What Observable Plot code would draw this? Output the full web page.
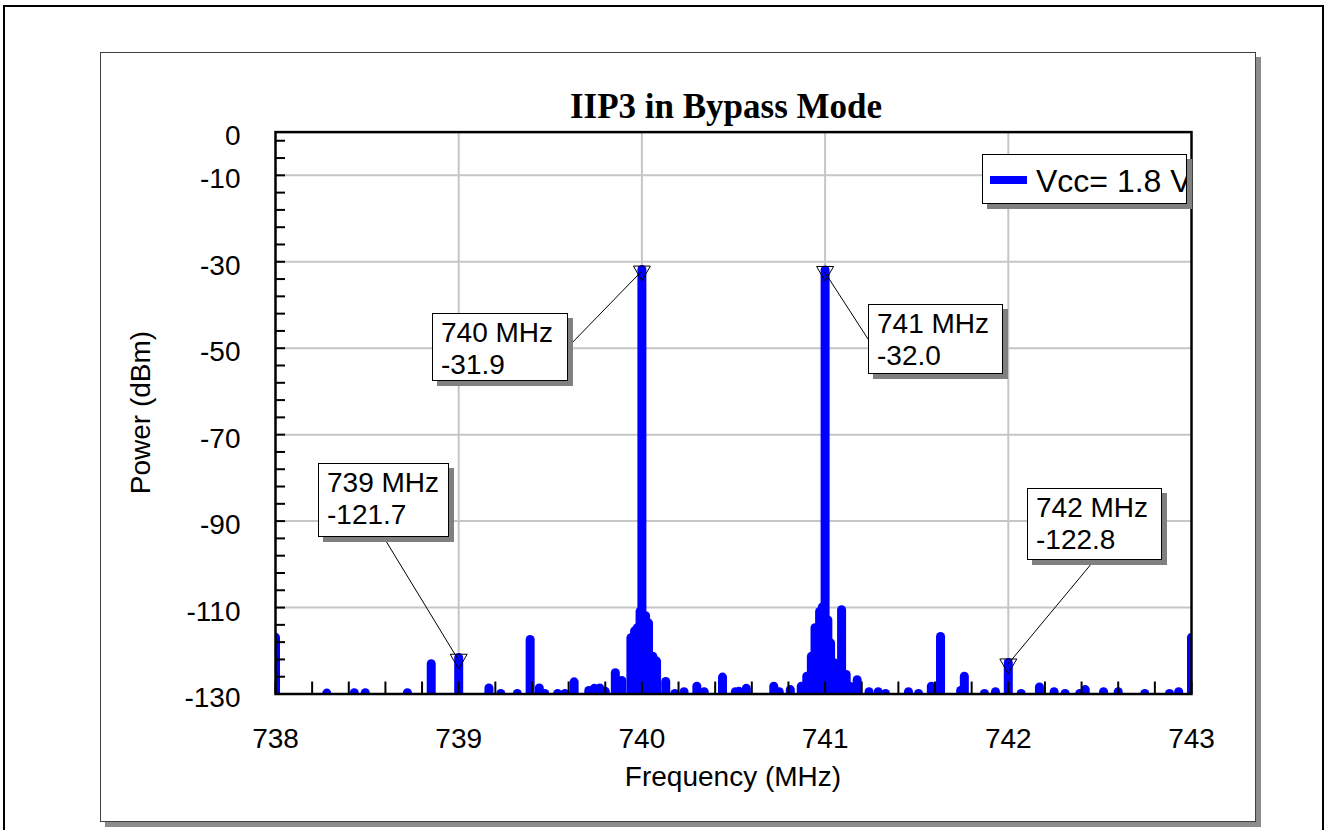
<!DOCTYPE html>
<html>
<head>
<meta charset="utf-8">
<script src="https://cdn.jsdelivr.net/npm/d3@7"></script>
<script src="https://cdn.jsdelivr.net/npm/@observablehq/plot@0.6"></script>
<style>
html,body{margin:0;padding:0;background:#fff;}
#root{position:relative;width:1328px;height:830px;overflow:hidden;font-family:"Liberation Sans",Arial,sans-serif;background:#fff;}
.outer{position:absolute;left:3px;top:5px;width:1317px;height:900px;border:2px solid #000;z-index:0;}
.panel{position:absolute;left:100px;top:52px;width:1154px;height:768px;border:1px solid #404040;background:#fff;box-shadow:5px 5px 0 #8c8c8c;z-index:1;}
#chart{position:absolute;left:0;top:0;width:1328px;height:830px;z-index:2;}
.box{position:absolute;background:#fff;border:1px solid #000;box-shadow:5px 5px 0 #808080;box-sizing:border-box;overflow:hidden;z-index:3;}
.line{position:absolute;white-space:nowrap;color:#000;}
#err{position:absolute;left:120px;top:60px;z-index:10;color:red;font-size:14px;white-space:pre-wrap;width:1000px;}
</style>
</head>
<body>
<div id="root">
  <div class="outer"></div>
  <div class="panel"></div>
  <div id="chart"></div>
  <div id="err"></div>
</div>
<script>
// ---- data ----
const freqs = [738.00, 738.28, 738.43, 738.49, 738.72, 738.85, 739.00, 739.165, 739.23, 739.32,
  739.39, 739.44, 739.47, 739.54, 739.58, 739.63, 739.71, 739.74, 739.77, 739.80,
  739.855, 739.89, 739.94, 739.96, 739.975, 739.99, 740.00, 740.02, 740.036, 740.06,
  740.08, 740.13, 740.18, 740.23, 740.30, 740.34, 740.44, 740.51, 740.53, 740.57,
  740.72, 740.75, 740.81, 740.87, 740.90, 740.925, 740.945, 740.97, 740.985, 741.00,
  741.015, 741.03, 741.05, 741.09, 741.115, 741.135, 741.175, 741.24, 741.29, 741.33,
  741.455, 741.51, 741.58, 741.63, 741.74, 741.76, 741.87, 741.93, 742.00, 742.07,
  742.17, 742.25, 742.31, 742.39, 742.42, 742.52, 742.60, 742.745, 742.88, 742.93, 743.00];
const powers = [-117, -129.9, -129.8, -129.8, -129.8, -123.1, -121.7, -128.7, -130, -130,
  -117.5, -128.7, -130, -130, -130, -127.3, -129.3, -128.8, -128.7, -129.5,
  -125.2, -127, -117.1, -115.5, -114.8, -111, -31.9, -112, -113.7, -121.4,
  -122.5, -127.2, -130, -129.6, -128.3, -129.6, -126.2, -129.6, -129.5, -128.8,
  -128.3, -129.6, -129.1, -128.3, -126, -121.4, -114.8, -111, -110, -32.0,
  -113, -118.3, -122.9, -110.6, -125.6, -128.3, -126.8, -129.6, -129.6, -130,
  -129.6, -130, -128.3, -116.8, -129.3, -126, -130, -129.6, -122.8, -130,
  -128.5, -129.6, -130, -130, -129.1, -129.6, -129.6, -130, -130, -129.6, -117];

const markerFreqs = [739, 740, 741, 742];
const markerPowers = [-121.7, -31.9, -32.0, -122.8];
const markerTexts = ["739 MHz", "740 MHz", "741 MHz", "742 MHz"];
const markerValueTexts = ["-121.7", "-31.9", "-32.0", "-122.8"];

const xTickLabels = [738, 739, 740, 741, 742, 743];
const yTickLabels = [0, -10, -30, -50, -70, -90, -110, -130];
const xGrid = [739, 740, 741, 742];
const yGrid = [-10, -30, -50, -70, -90, -110];

const seriesName = "Vcc= 1.8 V";
const title = "IIP3 in Bypass Mode";
const xLabel = "Frequency (MHz)";
const yLabel = "Power (dBm)";

// ---- layout ----
const W = 1328, H = 830;
const L = 275, R = 1191, T = 131.6, B = 693.5;
const plotW = R - L, plotH = B - T;
const BLUE = "#0000ff";

try {
const spectrum = freqs.map((f, i) => ({f, p: powers[i]}));
const markers = markerFreqs.map((f, i) => ({f, p: markerPowers[i]}));
const xMinor = d3.range(0, 26).map(k => 738 + k * 0.2);
const yMinor = d3.range(0, 33).map(k => -130 + k * 4);

const plot = Plot.plot({
  width: W, height: H,
  marginLeft: L, marginRight: W - R, marginTop: T, marginBottom: H - B,
  style: {fontFamily: "Liberation Sans, Arial, sans-serif", fontSize: "28px", background: "transparent", color: "#000"},
  x: {domain: [738, 743]},
  y: {domain: [-130, 0]},
  marks: [
    Plot.ruleX(xGrid, {x: d => d, stroke: "#c6c6c6", strokeWidth: 2}),
    Plot.ruleY(yGrid, {y: d => d, stroke: "#c6c6c6", strokeWidth: 2}),
    Plot.ruleX(spectrum, {x: "f", y1: -140, y2: "p", stroke: BLUE, strokeWidth: 9, strokeLinecap: "round", clip: true}),
    Plot.tickX(xMinor, {x: d => d, insetTop: plotH - 12, stroke: "#000", strokeWidth: 2}),
    Plot.tickY(yMinor, {y: d => d, insetRight: plotW - 10, stroke: "#000", strokeWidth: 2}),
    Plot.frame({stroke: "#000", strokeWidth: 2.5}),
    Plot.axisX({ticks: xTickLabels, tickSize: 0, tickPadding: 34, label: null, tickFormat: d => String(d)}),
    Plot.axisY({ticks: yTickLabels, tickSize: 0, tickPadding: 35, label: null, dy: 4, tickFormat: d => String(d)}),
    Plot.dot(markers, {x: "f", y: "p", symbol: "triangle", rotate: 180, r: 6.3, dy: 1, stroke: "#000", strokeWidth: 1, fill: "none"})
  ]
});
plot.style.position = "absolute";
plot.style.left = "0px";
plot.style.top = "0px";
document.getElementById("chart").appendChild(plot);

const svg = d3.select(plot);
const sx = plot.scale("x"), sy = plot.scale("y");

// title and axis labels
svg.append("text").attr("x", 726).attr("y", 118).attr("text-anchor", "middle")
  .attr("font-family", "Liberation Serif, Times New Roman, serif").attr("font-weight", "bold")
  .attr("font-size", 35).attr("fill", "#000").text(title);
svg.append("text").attr("x", (L + R) / 2).attr("y", 786).attr("text-anchor", "middle")
  .attr("font-size", 28).attr("fill", "#000").text(xLabel);
svg.append("text").attr("transform", `translate(150,${(T + B) / 2}) rotate(-90)`).attr("text-anchor", "middle")
  .attr("font-size", 28).attr("fill", "#000").text(yLabel);

// annotation boxes (layout) and leaders
const annLayout = [
  {left: 318, top: 463, w: 131, h: 74, anchor: "bottom"},
  {left: 432, top: 313, w: 136, h: 68, anchor: "right"},
  {left: 868, top: 304, w: 135, h: 70, anchor: "left"},
  {left: 1027, top: 488, w: 135, h: 72, anchor: "bottom"}
];
const root = document.getElementById("root");
annLayout.forEach((a, i) => {
  const px = sx.apply(markerFreqs[i]);
  const py = sy.apply(markerPowers[i]) + 2;
  let ax, ay;
  if (a.anchor === "bottom") { ax = a.left + a.w / 2; ay = a.top + a.h; }
  else if (a.anchor === "right") { ax = a.left + a.w; ay = a.top + a.h / 2; }
  else { ax = a.left; ay = a.top + a.h / 2; }
  svg.append("line").attr("x1", ax).attr("y1", ay).attr("x2", px).attr("y2", py)
    .attr("stroke", "#000").attr("stroke-width", 1);
  const box = document.createElement("div");
  box.className = "box";
  Object.assign(box.style, {left: a.left + "px", top: a.top + "px", width: a.w + "px", height: a.h + "px"});
  const l1 = document.createElement("div");
  l1.className = "line";
  Object.assign(l1.style, {left: "8px", top: "5px", fontSize: "28px", lineHeight: "28px"});
  l1.textContent = markerTexts[i];
  const l2 = document.createElement("div");
  l2.className = "line";
  Object.assign(l2.style, {left: "8px", top: "37px", fontSize: "28px", lineHeight: "28px"});
  l2.textContent = markerValueTexts[i];
  box.appendChild(l1); box.appendChild(l2);
  root.appendChild(box);
});

// legend
const leg = document.createElement("div");
leg.className = "box";
Object.assign(leg.style, {left: "982px", top: "154px", width: "205px", height: "50px"});
const sw = document.createElement("div");
Object.assign(sw.style, {position: "absolute", left: "7px", top: "21px", width: "37px", height: "8px", background: BLUE});
const lt = document.createElement("div");
lt.className = "line";
Object.assign(lt.style, {left: "53px", top: "10px", fontSize: "32px", lineHeight: "32px"});
lt.textContent = seriesName;
leg.appendChild(sw); leg.appendChild(lt);
root.appendChild(leg);
} catch (e) {
  document.getElementById("err").textContent = String(e && e.stack || e);
}
</script>
</body>
</html>
